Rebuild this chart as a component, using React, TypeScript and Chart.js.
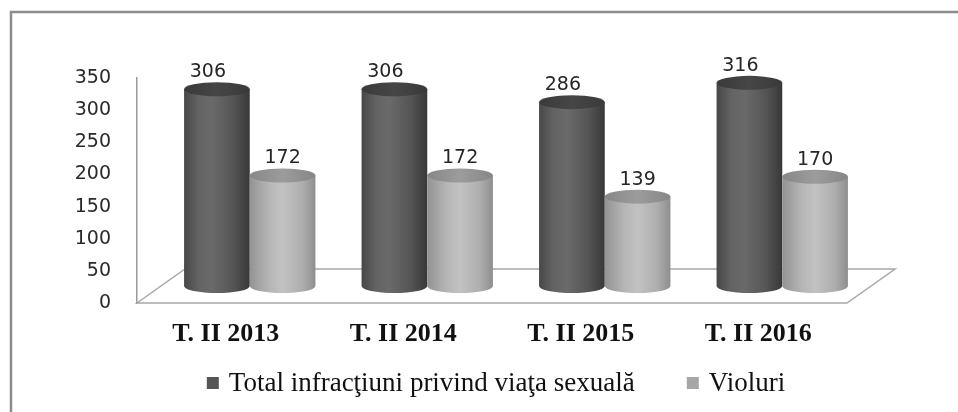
import React, { useEffect, useRef } from 'react';
import { Chart, registerables } from 'chart.js';

Chart.register(...registerables);

const categories = ['T. II 2013', 'T. II 2014', 'T. II 2015', 'T. II 2016'];
const totalValues = [306, 306, 286, 316];
const violuriValues = [172, 172, 139, 170];
const seriesNames = ['Total infracţiuni privind viaţa sexuală', 'Violuri'];
const yMin = 0;
const yMax = 350;
const yStep = 50;

const DEPTH_DX = 48;
const DEPTH_DY = 34;
const CAP_RY = 7;

const bodyStops: [number, string][][] = [
  [[0, '#474747'], [0.22, '#636363'], [0.42, '#6a6a6a'], [0.75, '#555555'], [1, '#383838']],
  [[0, '#939393'], [0.3, '#b6b6b6'], [0.5, '#c2c2c2'], [0.8, '#aeaeae'], [1, '#8e8e8e']],
];
const capColors = [['#3a3a3a', '#464646'], ['#878787', '#9c9c9c']];
const legendColors = ['#555555', '#a6a6a6'];
const labelShift = [-9, 0];

function drawCylinder(ctx: CanvasRenderingContext2D, cx: number, top: number, bottom: number, rx: number, ry: number, di: number) {
  const g = ctx.createLinearGradient(cx - rx, 0, cx + rx, 0);
  bodyStops[di].forEach(([o, c]) => g.addColorStop(o, c));
  ctx.beginPath();
  ctx.moveTo(cx - rx, top);
  ctx.lineTo(cx - rx, bottom);
  ctx.ellipse(cx, bottom, rx, ry, 0, Math.PI, 0, true);
  ctx.lineTo(cx + rx, top);
  ctx.closePath();
  ctx.fillStyle = g;
  ctx.fill();
  const cg = ctx.createLinearGradient(cx - rx, top, cx + rx, top);
  cg.addColorStop(0, capColors[di][0]);
  cg.addColorStop(0.5, capColors[di][1]);
  cg.addColorStop(1, capColors[di][0]);
  ctx.beginPath();
  ctx.ellipse(cx, top, rx, ry, 0, 0, Math.PI * 2);
  ctx.fillStyle = cg;
  ctx.fill();
}

const LEGEND_FONT = '27px "Liberation Serif"';
const LEGEND_BOX = 12;
const LEGEND_TEXT_GAP = 10;
const LEGEND_ITEM_GAP = 52;

const cylinderPlugin = {
  id: 'cyl3d',
  beforeDraw(chart: any) {
    const ctx = chart.ctx as CanvasRenderingContext2D;
    ctx.save();
    ctx.fillStyle = '#ffffff';
    ctx.fillRect(0, 0, chart.width, chart.height);
    ctx.strokeStyle = '#8c8c8c';
    ctx.lineWidth = 2.5;
    ctx.strokeRect(11, 12, chart.width + 20, chart.height + 20);
    ctx.restore();
  },
  beforeDatasetsDraw(chart: any) {
    const ctx = chart.ctx as CanvasRenderingContext2D;
    const a = chart.chartArea;
    ctx.save();
    ctx.strokeStyle = '#a8a8a8';
    ctx.lineWidth = 1.5;
    ctx.beginPath();
    ctx.moveTo(a.left, a.bottom);
    ctx.lineTo(a.left + DEPTH_DX, a.bottom - DEPTH_DY);
    ctx.lineTo(a.right + DEPTH_DX, a.bottom - DEPTH_DY);
    ctx.lineTo(a.right, a.bottom);
    ctx.closePath();
    ctx.stroke();

    const dx = DEPTH_DX / 2;
    const dy = DEPTH_DY / 2;
    const n = chart.data.labels.length;
    for (let i = 0; i < n; i++) {
      chart.data.datasets.forEach((ds: any, di: number) => {
        const bar = chart.getDatasetMeta(di).data[i];
        const p = bar.getProps(['x', 'y', 'base', 'width'], true);
        drawCylinder(ctx, p.x + dx, p.y - dy, p.base - dy, p.width / 2, CAP_RY, di);
      });
    }
    ctx.font = '19px "DejaVu Sans"';
    ctx.fillStyle = '#262626';
    ctx.textAlign = 'center';
    ctx.textBaseline = 'middle';
    chart.data.datasets.forEach((ds: any, di: number) => {
      chart.getDatasetMeta(di).data.forEach((bar: any, i: number) => {
        const p = bar.getProps(['x', 'y'], true);
        ctx.fillText(String(ds.data[i]), p.x + dx + labelShift[di], p.y - dy - CAP_RY - 10);
      });
    });
    ctx.restore();
    return false;
  },
  afterDraw(chart: any) {
    const ctx = chart.ctx as CanvasRenderingContext2D;
    const a = chart.chartArea;
    ctx.save();
    ctx.font = LEGEND_FONT;
    ctx.textBaseline = 'middle';
    ctx.textAlign = 'left';
    const items = chart.data.datasets.map((ds: any) => ({
      text: ds.label as string,
      color: ds.backgroundColor as string,
      w: LEGEND_BOX + LEGEND_TEXT_GAP + ctx.measureText(ds.label).width,
    }));
    const total = items.reduce((s: number, it: any) => s + it.w, 0) + LEGEND_ITEM_GAP * (items.length - 1);
    const center = (a.left + a.right) / 2 + 4;
    let x = center - total / 2;
    const y = a.bottom + 80;
    items.forEach((it: any) => {
      ctx.fillStyle = it.color;
      ctx.fillRect(x, y - LEGEND_BOX / 2, LEGEND_BOX, LEGEND_BOX);
      ctx.fillStyle = '#111111';
      ctx.fillText(it.text, x + LEGEND_BOX + LEGEND_TEXT_GAP, y + 1);
      x += it.w + LEGEND_ITEM_GAP;
    });
    ctx.restore();
  },
};

export default function App() {
  const ref = useRef<HTMLCanvasElement>(null);
  useEffect(() => {
    document.body.style.margin = '0';
    const chart = new Chart(ref.current!, {
      type: 'bar',
      data: {
        labels: categories,
        datasets: [
          { label: seriesNames[0], data: totalValues, backgroundColor: legendColors[0], borderWidth: 0 },
          { label: seriesNames[1], data: violuriValues, backgroundColor: legendColors[1], borderWidth: 0 },
        ],
      },
      options: {
        responsive: false,
        animation: false,
        layout: { padding: { top: 78, right: 111, bottom: 0, left: 0 } },
        datasets: { bar: { barPercentage: 1, categoryPercentage: 0.74 } },
        plugins: {
          tooltip: { enabled: false },
          legend: { display: false },
        },
        scales: {
          x: {
            grid: { display: false, drawTicks: false },
            border: { display: false },
            ticks: {
              color: '#111111',
              padding: 16,
              font: { family: '"Liberation Serif"', size: 26, weight: 'bold' },
            },
            afterFit: (s: any) => { s.height = 109; },
          },
          y: {
            min: yMin,
            max: yMax,
            grid: { display: false, drawTicks: false },
            border: { display: true, color: '#9a9a9a', width: 1.5 },
            ticks: {
              stepSize: yStep,
              color: '#2a2a2a',
              padding: 26,
              font: { family: '"DejaVu Sans"', size: 19 },
            },
            afterFit: (s: any) => { s.width = 137; },
          },
        },
      },
      plugins: [cylinderPlugin],
    });
    return () => chart.destroy();
  }, []);
  return (
    <div style={{ width: 958, height: 412 }}>
      <canvas ref={ref} width={958} height={412} />
    </div>
  );
}
